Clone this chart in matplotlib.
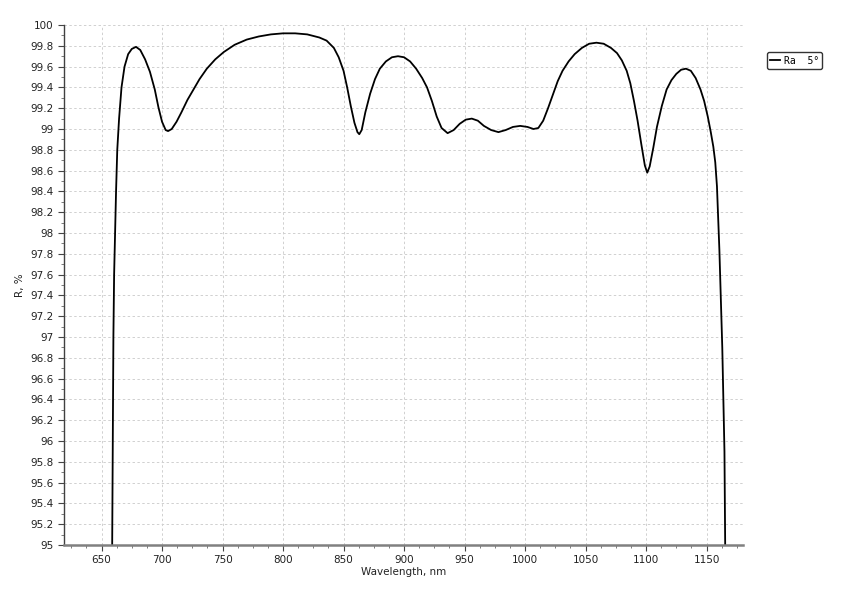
import matplotlib.pyplot as plt
from matplotlib.ticker import MultipleLocator

# spectrum
wavelength = [
    658.8, 659.3, 659.8, 660.4, 661.2, 662.0, 663.0, 664.5, 666.5, 669.0,
    672.0, 675.0, 678.5, 682.0, 686.0, 690.0, 694.0, 697.0, 700.0, 703.0,
    705.0, 708.0, 712.0, 716.0, 721.0, 726.0, 731.0, 737.0, 744.0, 751.0,
    760.0, 770.0, 780.0, 790.0, 800.0, 810.0, 820.0, 830.0, 836.0, 842.0,
    846.0, 850.0, 853.0, 856.0, 859.0, 861.5, 863.0, 865.0, 868.0, 872.0,
    876.0, 880.0, 885.0, 890.0, 895.0, 900.0, 905.0, 910.0, 915.0, 919.0,
    923.0, 927.0, 931.0, 936.0, 941.0, 946.0, 951.0, 956.0, 961.0, 966.0,
    972.0, 978.0, 984.0, 990.0, 996.0, 1002.0, 1007.0, 1011.0, 1015.0, 1019.0,
    1023.0, 1027.0, 1031.0, 1036.0, 1041.0, 1047.0, 1053.0, 1059.0, 1065.0, 1071.0,
    1076.0, 1080.0, 1084.0, 1087.0, 1090.0, 1093.0, 1096.0, 1099.0, 1101.0, 1103.0,
    1106.0, 1109.0, 1113.0, 1117.0, 1121.0, 1125.0, 1129.0, 1133.0, 1137.0, 1141.0,
    1145.0, 1148.0, 1151.0, 1153.5, 1155.6, 1157.2, 1158.6, 1160.6, 1163.0, 1164.8, 1165.4,
]
reflectance = [
    95.0, 96.0, 97.0, 97.6, 98.0, 98.4, 98.8, 99.1, 99.4, 99.6,
    99.72, 99.77, 99.79, 99.76, 99.67, 99.55, 99.38, 99.21, 99.07, 98.99,
    98.98, 99.0, 99.07, 99.16, 99.28, 99.38, 99.48, 99.58, 99.67, 99.74,
    99.81, 99.86, 99.89, 99.91, 99.92, 99.92, 99.91, 99.88, 99.85, 99.78,
    99.69, 99.56, 99.4, 99.22, 99.06, 98.97, 98.95, 98.99, 99.16, 99.34,
    99.48, 99.58, 99.65, 99.69, 99.7, 99.69, 99.65, 99.58, 99.49, 99.4,
    99.27, 99.12, 99.01, 98.96, 98.99, 99.05, 99.09, 99.1, 99.08, 99.03,
    98.99, 98.97, 98.99, 99.02, 99.03, 99.02, 99.0, 99.01, 99.08, 99.2,
    99.33, 99.46, 99.56, 99.65, 99.72, 99.78, 99.82, 99.83, 99.82, 99.78,
    99.73, 99.66, 99.56, 99.44, 99.27, 99.08, 98.86, 98.65, 98.58, 98.64,
    98.82, 99.02, 99.22, 99.38, 99.47, 99.53, 99.57, 99.58, 99.56, 99.49,
    99.38, 99.27, 99.12, 98.97, 98.83, 98.68, 98.45, 97.84, 96.9, 95.9, 95.0,
]
series_name = 'Ra  5°'

fig = plt.figure(figsize=(8.48, 6.0), dpi=100)
ax = fig.add_axes([0.0755, 0.0917, 0.8005, 0.8666])

line, = ax.plot(wavelength, reflectance, color='black', lw=1.3)

ax.set_xlim(619, 1180)
ax.set_ylim(95, 100)
ax.xaxis.set_major_locator(MultipleLocator(50))
ax.xaxis.set_minor_locator(MultipleLocator(12.5))
ax.yaxis.set_major_locator(MultipleLocator(0.2))
ax.yaxis.set_minor_locator(MultipleLocator(0.1))
ax.yaxis.set_major_formatter(plt.FuncFormatter(lambda v, p: f'{v:g}'))

ax.grid(True, which='major', color='#d0d0d0', linestyle=(0, (2.5, 2.5)), lw=0.7)
for s in ('top', 'right'):
    ax.spines[s].set_visible(False)
ax.spines['bottom'].set_color('#808080')
ax.spines['bottom'].set_linewidth(1.8)
ax.spines['left'].set_color('#404040')
ax.spines['left'].set_linewidth(1.0)

ax.tick_params(which='major', labelsize=7.5, colors='#444444', length=4, labelcolor='#222222')
ax.tick_params(which='minor', colors='#666666', length=2.5)

ax.set_xlabel('Wavelength, nm', fontsize=7.5, color='#222222', labelpad=1)
ax.set_ylabel('R, %', fontsize=7.5, color='#222222', labelpad=4)

leg = fig.legend([line], [series_name], loc='center', bbox_to_anchor=(0.937, 0.899),
                 prop={'family': 'DejaVu Sans Mono', 'size': 7}, handlelength=1.0,
                 handletextpad=0.4, borderpad=0.35, fancybox=True, framealpha=1)
leg.get_frame().set_edgecolor('#333333')
leg.get_frame().set_linewidth(1.0)

plt.savefig('out.png', dpi=100)
